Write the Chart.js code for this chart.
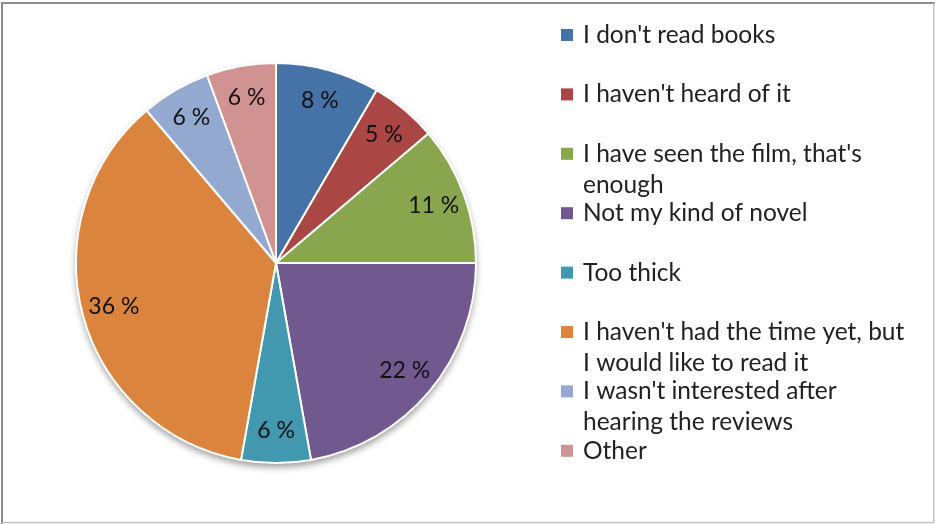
<!DOCTYPE html>
<html>
<head>
<meta charset="utf-8">
<script src="https://cdn.jsdelivr.net/npm/chart.js@4/dist/chart.umd.min.js"></script>
<style>
html,body{margin:0;padding:0;background:#fff;}
#wrap{width:935px;height:524px;position:relative;}
</style>
</head>
<body>
<div id="wrap"><canvas id="pieChart" width="935" height="524"></canvas></div>
<script>
// reasons for not reading the book (share of answers, %)
const categories=[
"I don't read books",
"I haven't heard of it",
["I have seen the film, that's","enough"],
"Not my kind of novel",
"Too thick",
["I haven't had the time yet, but","I would like to read it"],
["I wasn't interested after","hearing the reviews"],
"Other"
];
const shares=[8.4,5.4,11.2,22.2,5.6,36.0,5.6,5.6];
const colors=['#4572A7','#AA4643','#89A54E','#71588F','#4198AF','#DB843D','#93A9CF','#D19392'];

const FONT='Lato, "Open Sans", sans-serif';

// soft shadow under the pie
const pieShadow={
id:'pieShadow',
beforeDatasetsDraw(chart){
const arc=chart.getDatasetMeta(0).data[0];
if(!arc) return;
const ctx=chart.ctx;
ctx.save();
ctx.shadowColor='rgba(0,0,0,0.4)';
ctx.shadowBlur=7;
ctx.shadowOffsetY=4;
ctx.fillStyle='#fff';
ctx.beginPath();
ctx.arc(arc.x,arc.y,arc.outerRadius,0,Math.PI*2);
ctx.fill();
ctx.restore();
}
};

// percentage labels inside the slices
const pctLabels={
id:'pctLabels',
afterDatasetsDraw(chart){
const ctx=chart.ctx;
const meta=chart.getDatasetMeta(0);
ctx.save();
ctx.font='23px '+FONT;
ctx.fillStyle='#111';
ctx.textAlign='center';
ctx.textBaseline='middle';
meta.data.forEach((arc,i)=>{
const a=(arc.startAngle+arc.endAngle)/2;
const r=arc.outerRadius*0.84;
ctx.fillText(Math.round(shares[i])+' %',arc.x+Math.cos(a)*r,arc.y+Math.sin(a)*r);
});
ctx.restore();
}
};

// legend on the right, drawn like the original
const sideLegend={
id:'sideLegend',
afterDraw(chart){
const ctx=chart.ctx;
ctx.save();
ctx.font='24.5px '+FONT;
ctx.textBaseline='middle';
categories.forEach((lab,i)=>{
const y=35+i*59.4;
ctx.fillStyle=colors[i];
ctx.fillRect(561,y-6,12,12);
ctx.fillStyle='#222';
const lines=Array.isArray(lab)?lab:[lab];
lines.forEach((t,j)=>ctx.fillText(t,583,y+j*31));
});
// outer frame
ctx.lineWidth=2;
ctx.strokeStyle='#8c8c8c';
ctx.beginPath();
ctx.moveTo(2,524);ctx.lineTo(2,3);ctx.lineTo(935,3);
ctx.stroke();
ctx.lineWidth=1.5;
ctx.strokeStyle='#c4c4c4';
ctx.beginPath();
ctx.moveTo(933.8,3);ctx.lineTo(933.8,522.5);ctx.lineTo(2,522.5);
ctx.stroke();
ctx.restore();
}
};

const ctx=document.getElementById('pieChart').getContext('2d');
new Chart(ctx,{
type:'pie',
data:{
labels:categories,
datasets:[{
data:shares,
backgroundColor:colors,
borderColor:'#fff',
borderWidth:2
}]
},
options:{
responsive:false,
animation:false,
layout:{padding:{left:75,top:62,right:458,bottom:60}},
plugins:{legend:{display:false},tooltip:{enabled:false}}
},
plugins:[pieShadow,pctLabels,sideLegend]
});
</script>
</body>
</html>
